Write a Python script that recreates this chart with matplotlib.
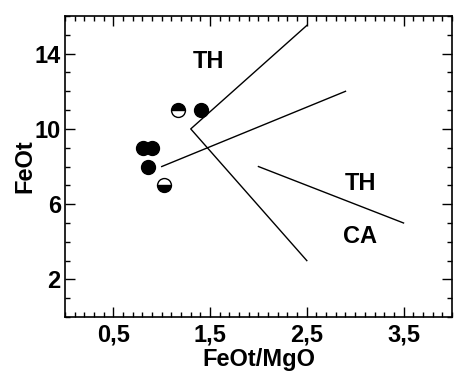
import matplotlib
matplotlib.use("Agg")
import matplotlib.pyplot as plt
from matplotlib.ticker import MultipleLocator, FixedLocator

plt.rcParams['font.family'] = ['Liberation Sans', 'DejaVu Sans']
plt.rcParams['font.weight'] = 'bold'

# Boundary lines
line1_x = [2.5, 1.3, 2.5]
line1_y = [15.5, 10, 3]
line2_x = [1.0, 2.9]
line2_y = [8, 12]
line3_x = [2.0, 3.5]
line3_y = [8, 5]

# Samples
filled_x = [0.81, 0.90, 0.86, 1.41]
filled_y = [9, 9, 8, 11]
half_top_x = [1.17]
half_top_y = [11]
half_bottom_x = [1.02]
half_bottom_y = [7]

labels = [("TH", 1.48, 13.6), ("TH", 3.05, 7.1), ("CA", 3.05, 4.3)]

fig = plt.figure(figsize=(4.63, 3.73), dpi=100)
ax = fig.add_axes([0.1404, 0.150, 0.8356, 0.807])

for xs, ys in [(line1_x, line1_y), (line2_x, line2_y), (line3_x, line3_y)]:
    ax.plot(xs, ys, color='black', lw=1.0)

ms = 10
ax.plot(filled_x, filled_y, 'o', ms=ms, mfc='black', mec='black', ls='none')
ax.plot(half_top_x, half_top_y, 'o', ms=ms, fillstyle='top', mfc='black',
        mfcalt='white', mec='black', mew=1.0, ls='none')
ax.plot(half_bottom_x, half_bottom_y, 'o', ms=ms, fillstyle='bottom', mfc='black',
        mfcalt='white', mec='black', mew=1.0, ls='none')

fs = 17
for t, x, y in labels:
    ax.text(x, y, t, ha='center', va='center', fontsize=fs, fontweight='bold')

ax.set_xlim(0, 4)
ax.set_ylim(0, 16)
ax.xaxis.set_major_locator(FixedLocator([0.5, 1.5, 2.5, 3.5]))
ax.xaxis.set_minor_locator(MultipleLocator(0.1))
ax.yaxis.set_major_locator(FixedLocator([2, 6, 10, 14]))
ax.yaxis.set_minor_locator(MultipleLocator(1))
ax.set_xticklabels(['0,5', '1,5', '2,5', '3,5'])
ax.set_yticklabels(['2', '6', '10', '14'])
ax.tick_params(which='both', direction='in', top=True, right=True, width=1.0)
ax.tick_params(which='major', length=7, labelsize=fs)
ax.tick_params(axis='x', which='major', pad=5)
ax.tick_params(axis='y', which='major', pad=3)
ax.tick_params(which='minor', length=3.5)
for s in ax.spines.values():
    s.set_linewidth(1.2)

ax.set_xlabel('FeOt/MgO', fontsize=fs, fontweight='bold', labelpad=0.5)
ax.set_ylabel('FeOt', fontsize=fs, fontweight='bold', labelpad=-1)

fig.savefig('out.png', dpi=100)
